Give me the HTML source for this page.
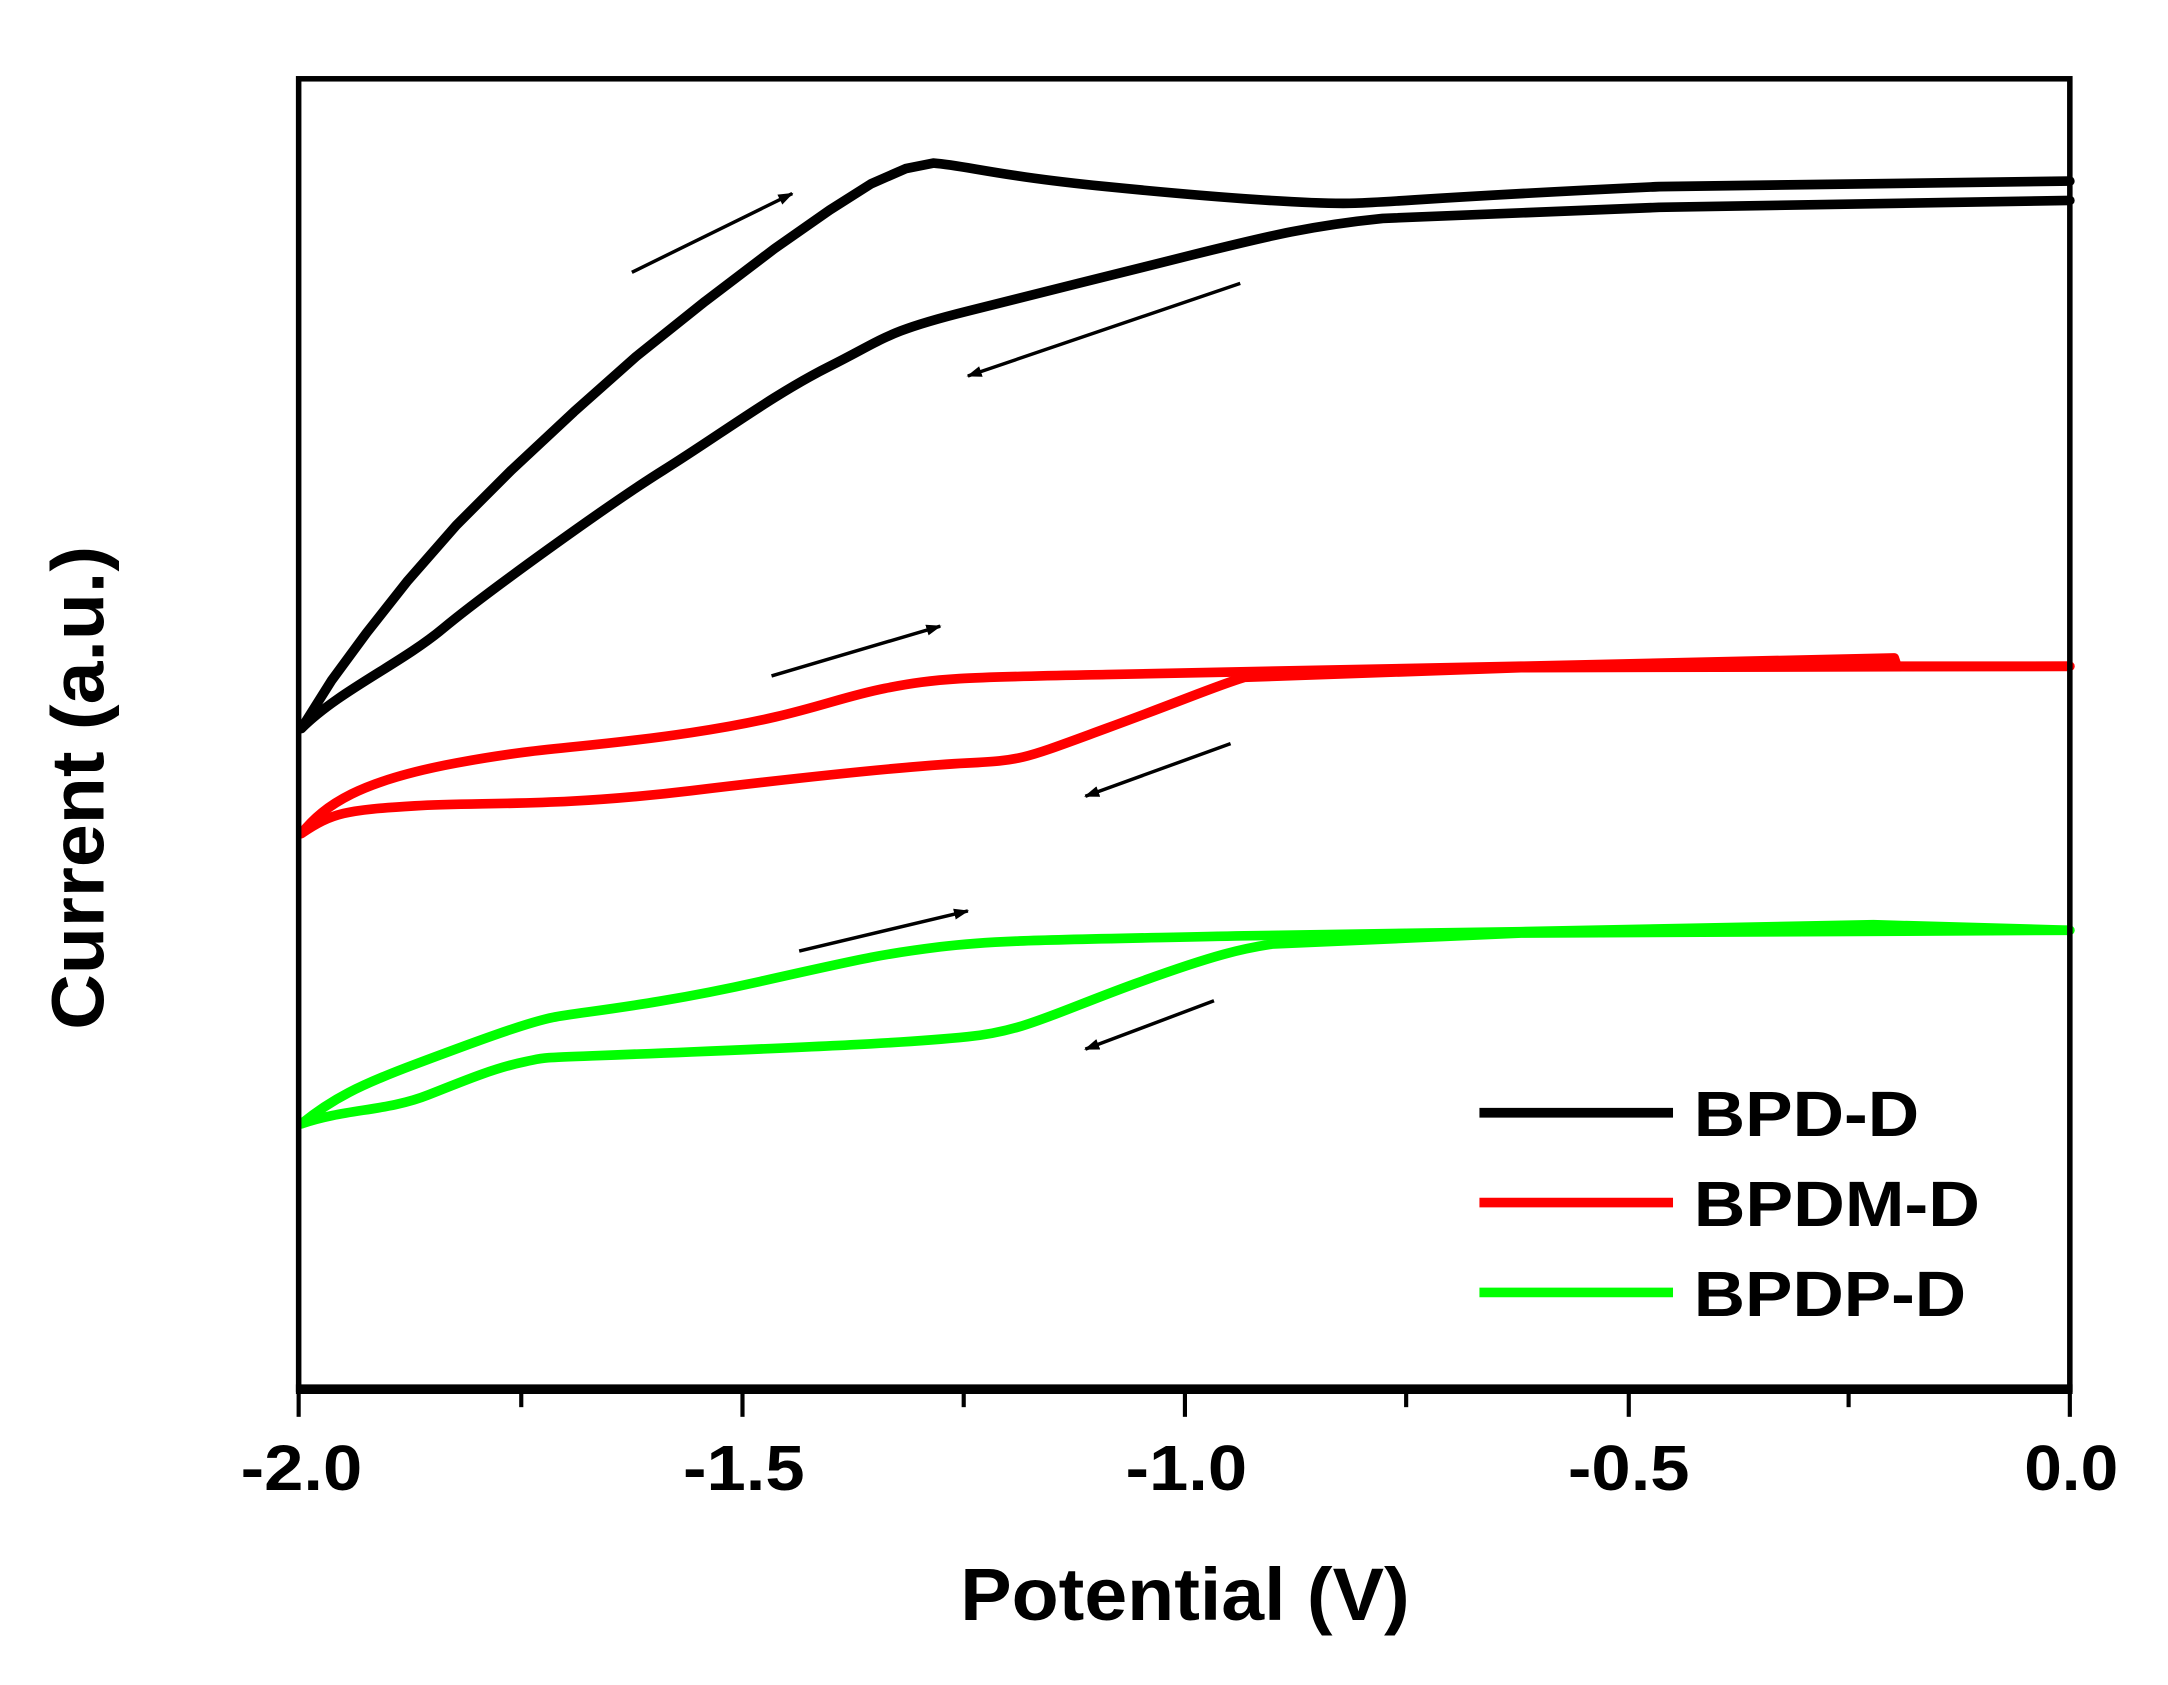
<!DOCTYPE html>
<html><head><style>html,body{margin:0;padding:0;background:#fff}svg{display:block}</style></head>
<body>
<svg width="2168" height="1685" viewBox="0 0 1568 1219" preserveAspectRatio="none" xmlns="http://www.w3.org/2000/svg">
<defs><marker id="ah" markerWidth="11" markerHeight="8" refX="10" refY="4" orient="auto" markerUnits="userSpaceOnUse"><path d="M0,0 L11,4 L0,8 Z" fill="#000"/></marker></defs>
<g fill="none" stroke-linejoin="round" stroke-linecap="round">
<path d="M218,527 L240,492 L265,458 L295,420 L330,380 L370,340 L415,298 L460,258 L510,218 L560,180 L600,152 L630,133 L655,122 L675,118 C700,120 720,127 800,135 S950,148 980,147 S1050,142 1200,135 L1497,131" stroke="#000" stroke-width="7"/>
<path d="M1497,145 L1200,150 L1000,158 C950,163 920,170 860,185 S760,210 700,225 S640,245 600,265 S520,315 480,340 S350,430 320,455 S245,500 218,527" stroke="#000" stroke-width="7"/>
<path d="M218,603 C235,582 260,565 330,552 S420,542 500,530 S600,506 640,498 S700,490 800,488 L1100,482 L1370,476 L1372,482 L1497,482" stroke="#f00" stroke-width="7"/>
<path d="M1497,482 L1100,483 L900,490 C880,496 860,505 800,527 S740,550 700,552 S600,560 500,572 S350,580 300,583 S240,588 218,603" stroke="#f00" stroke-width="7"/>
<path d="M218,813 C240,795 260,785 300,770 S380,740 400,736 S470,728 550,710 S640,690 680,685 S760,680 900,677 L1100,674 L1355,669 L1497,673" stroke="#0f0" stroke-width="7"/>
<path d="M1497,673 L1100,675 L920,683 C900,686 880,690 820,712 S740,746 700,750 S620,756 500,761 S400,764 380,768 S340,780 310,792 S250,802 218,813" stroke="#0f0" stroke-width="7"/>
</g>
<g stroke="#000" stroke-width="2.5" marker-end="url(#ah)">
<line x1="457" y1="197" x2="573" y2="140"/>
<line x1="897" y1="205" x2="700" y2="272"/>
<line x1="558" y1="489" x2="680" y2="453"/>
<line x1="890" y1="538" x2="785" y2="576"/>
<line x1="578" y1="688" x2="700" y2="659"/>
<line x1="878" y1="724" x2="785" y2="759"/>
</g>
<rect x="216" y="57" width="1281" height="948" fill="none" stroke="#000" stroke-width="4"/>
<line x1="214" y1="1005" x2="1499" y2="1005" stroke="#000" stroke-width="7"/>
<g stroke="#000" stroke-width="3">
<line x1="216" y1="1005" x2="216" y2="1025"/><line x1="537" y1="1005" x2="537" y2="1025"/><line x1="857" y1="1005" x2="857" y2="1025"/><line x1="1178" y1="1005" x2="1178" y2="1025"/><line x1="1497" y1="1005" x2="1497" y2="1025"/>
<line x1="377" y1="1005" x2="377" y2="1018"/><line x1="697" y1="1005" x2="697" y2="1018"/><line x1="1017" y1="1005" x2="1017" y2="1018"/><line x1="1337" y1="1005" x2="1337" y2="1018"/>
</g>
<g font-family="Liberation Sans, Arial, sans-serif" font-weight="bold" fill="#000">
<g font-size="46" text-anchor="middle">
<text x="218" y="1078" textLength="88" lengthAdjust="spacingAndGlyphs">-2.0</text>
<text x="538" y="1078" textLength="88" lengthAdjust="spacingAndGlyphs">-1.5</text>
<text x="858" y="1078" textLength="88" lengthAdjust="spacingAndGlyphs">-1.0</text>
<text x="1178" y="1078" textLength="88" lengthAdjust="spacingAndGlyphs">-0.5</text>
<text x="1498" y="1078" textLength="68" lengthAdjust="spacingAndGlyphs">0.0</text>
</g>
<text x="857" y="1172" font-size="54" text-anchor="middle" textLength="325" lengthAdjust="spacingAndGlyphs">Potential (V)</text>
<text transform="translate(75,570) rotate(-90)" font-size="54" text-anchor="middle" textLength="350" lengthAdjust="spacingAndGlyphs">Current (a.u.)</text>
<g font-size="46">
<text x="1225" y="822" textLength="163" lengthAdjust="spacingAndGlyphs">BPD-D</text>
<text x="1225" y="887" textLength="207" lengthAdjust="spacingAndGlyphs">BPDM-D</text>
<text x="1225" y="952" textLength="197" lengthAdjust="spacingAndGlyphs">BPDP-D</text>
</g>
</g>
<g stroke-width="7">
<line x1="1070" y1="805" x2="1210" y2="805" stroke="#000"/>
<line x1="1070" y1="870" x2="1210" y2="870" stroke="#f00"/>
<line x1="1070" y1="935" x2="1210" y2="935" stroke="#0f0"/>
</g>
</svg>
</body></html>
